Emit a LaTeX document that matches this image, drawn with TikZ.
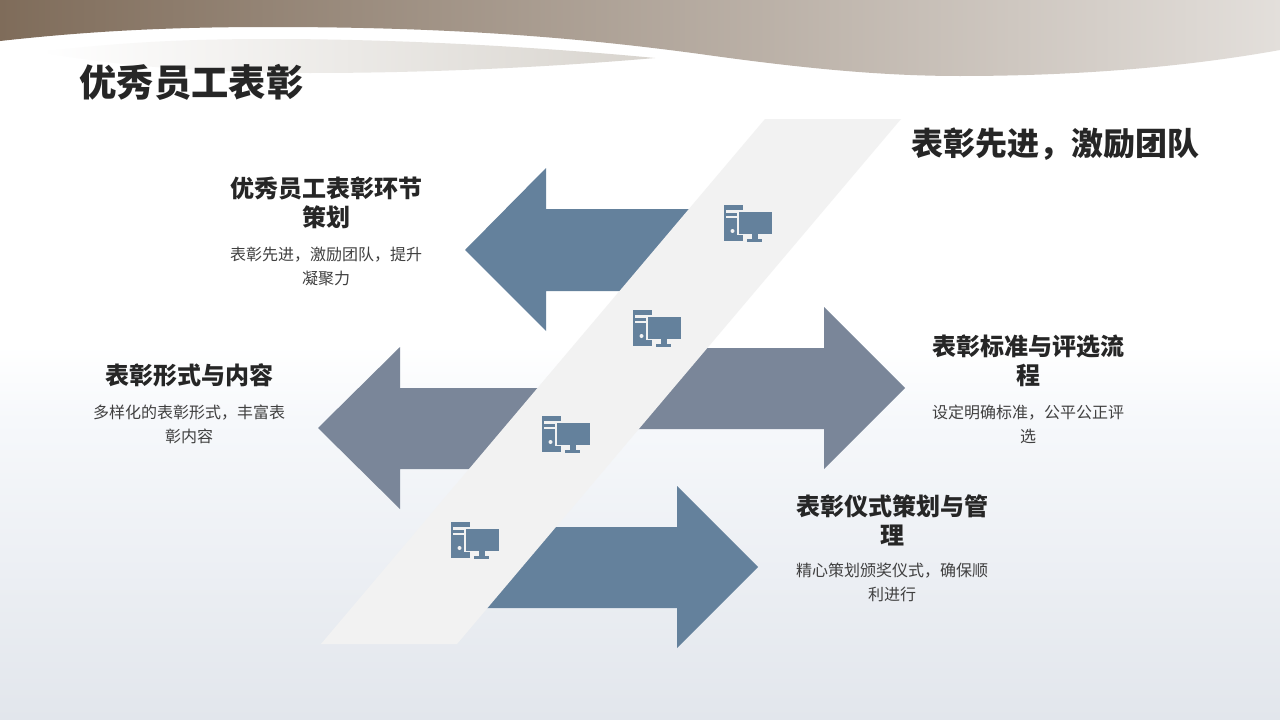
\documentclass[tikz,border=0pt]{standalone}
\usepackage{fontspec}
\setmainfont{Noto Sans CJK SC}
\definecolor{bluearrow}{HTML}{64819C}
\definecolor{greyarrow}{HTML}{7A8699}
\definecolor{bandgrey}{HTML}{F2F2F2}
\definecolor{headtext}{HTML}{262626}
\definecolor{desctext}{HTML}{404040}
\definecolor{pagemid}{HTML}{F6F8FB}
\definecolor{pagelow}{HTML}{E2E6EC}
\definecolor{wavedark}{HTML}{7F6C5A}
\definecolor{wavelight}{HTML}{E3DFDB}
\definecolor{swooshend}{HTML}{D8D4CE}
\pgfdeclareverticalshading{pagefade}{100bp}{color(0bp)=(pagelow); color(25bp)=(pagelow); color(65bp)=(pagemid); color(75bp)=(white); color(100bp)=(white)}
\pgfdeclarehorizontalshading{wavefade}{100bp}{color(0bp)=(wavedark); color(25bp)=(wavedark); color(75bp)=(wavelight); color(100bp)=(wavelight)}
\pgfdeclarehorizontalshading{swooshfade}{100bp}{color(0bp)=(white); color(25bp)=(white); color(75bp)=(swooshend); color(100bp)=(swooshend)}
\tikzset{
  head/.style={text=headtext,font=\bfseries\fontsize{24}{29}\selectfont,align=center,inner sep=0pt},
  desc/.style={text=desctext,font=\fontsize{16}{24}\selectfont,align=center,inner sep=0pt},
  pcicon/.pic={
    \fill [bluearrow] (1,0) -- (20,0) -- (20,36) -- (1,36) -- cycle;
    \fill [bandgrey] (3,5) -- (15,5) -- (15,7.5) -- (3,7.5) -- cycle;
    \fill [bandgrey] (3,10.5) -- (15,10.5) -- (15,13) -- (3,13) -- cycle;
    \fill [bandgrey] (9.5,26) circle (2);
    \fill [bandgrey] (14,5) -- (50,5) -- (50,30) -- (14,30) -- cycle;
    \fill [bluearrow] (15.5,6.5) -- (49,6.5) -- (49,28.5) -- (15.5,28.5) -- cycle;
    \fill [bluearrow] (29,29) -- (35,29) -- (35,34) -- (29,34) -- cycle;
    \fill [bluearrow] (24,34) -- (39,34) -- (39,37) -- (24,37) -- cycle;
  }
}
\begin{document}
\begin{tikzpicture}[x=1pt,y=-1pt]
  \useasboundingbox (0,0) rectangle (1280,720);
  % background
  \fill [white] (0,0) rectangle (1280,346);
  \shade [shading=pagefade] (0,345) rectangle (1280,720);
  % header
  \shade [shading=wavefade]
    (0,0) -- (0,41) .. controls (90,31) and (170,27) .. (270,27)
    .. controls (430,27) and (560,35) .. (700,54)
    .. controls (800,68) and (880,76) .. (960,76)
    .. controls (1070,76) and (1180,68) .. (1280,50) -- (1280,0) -- cycle;
  \shade [shading=swooshfade]
    (40,52) .. controls (120,42) and (190,39) .. (270,39)
    .. controls (400,39) and (540,47) .. (655,58)
    .. controls (540,68) and (420,73) .. (310,73)
    .. controls (200,73) and (110,65) .. (40,52) -- cycle;
  % arrows
  \fill [bluearrow] (465,250) -- (546,168) -- (546,209) -- (720,209) -- (720,291) -- (546,291) -- (546,331) -- cycle;
  \fill [greyarrow] (318,428) -- (400,347) -- (400,388) -- (570,388) -- (570,469) -- (400,469) -- (400,509) -- cycle;
  \fill [greyarrow] (905,388) -- (824,307) -- (824,348) -- (660,348) -- (620,429) -- (824,429) -- (824,469) -- cycle;
  \fill [bluearrow] (758,567) -- (677,486) -- (677,527) -- (500,527) -- (470,608) -- (677,608) -- (677,648) -- cycle;
  % band
  \fill [bandgrey] (765,119) -- (901,119) -- (457,644) -- (321,644) -- cycle;
  % icons
  \pic at (723,205) {pcicon};
  \pic at (632,310) {pcicon};
  \pic at (541,416) {pcicon};
  \pic at (450,522) {pcicon};
  % texts
  \node (title) [text=headtext,font=\bfseries\fontsize{37.3}{37.3}\selectfont,inner sep=0pt] at (191.5,82.5) {优秀员工表彰};
  \node (slogan) [text=headtext,font=\bfseries\fontsize{32}{32}\selectfont,inner sep=0pt] at (1055.5,144.5) {表彰先进，激励团队};
  \node (h1) [head] at (326,203) {优秀员工表彰环节\\策划};
  \node (d1) [desc] at (326,266) {表彰先进，激励团队，提升\\凝聚力};
  \node (h2) [head] at (189,375.5) {表彰形式与内容};
  \node (d2) [desc] at (189,424) {多样化的表彰形式，丰富表\\彰内容};
  \node (h3) [head] at (1028,361) {表彰标准与评选流\\程};
  \node (d3) [desc] at (1028,424) {设定明确标准，公平公正评\\选};
  \node (h4) [head] at (892,520) {表彰仪式策划与管\\理};
  \node (d4) [desc] at (892,582) {精心策划颁奖仪式，确保顺\\利进行};
\end{tikzpicture}
\end{document}
